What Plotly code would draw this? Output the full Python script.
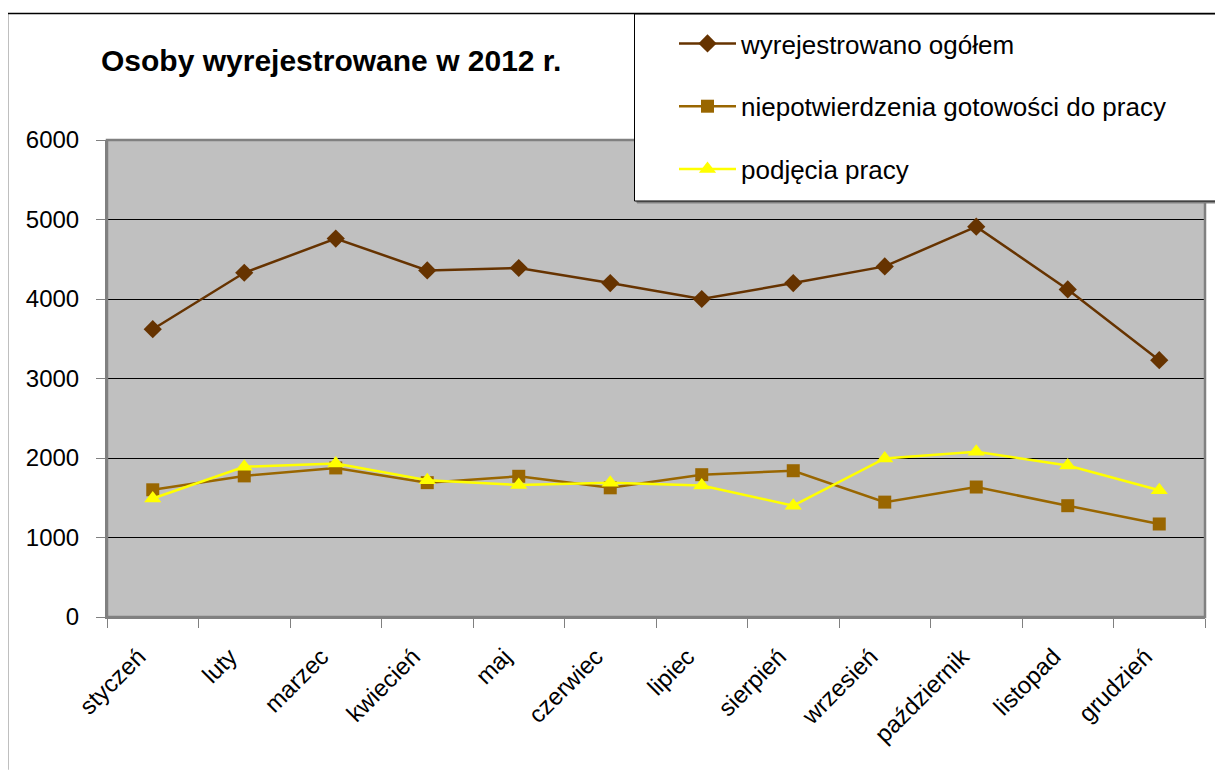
import plotly.graph_objects as go

months = ["styczeń", "luty", "marzec", "kwiecień", "maj", "czerwiec", "lipiec",
          "sierpień", "wrzesień", "październik", "listopad", "grudzień"]
wyrejestrowano = [3620, 4330, 4760, 4360, 4390, 4200, 4000, 4200, 4410, 4910, 4120, 3230]
niepotwierdzenia = [1600, 1775, 1875, 1690, 1770, 1625, 1790, 1840, 1445, 1635, 1400, 1170]
podjecia = [1490, 1890, 1930, 1720, 1660, 1690, 1655, 1400, 1995, 2080, 1905, 1595]
y_ticks = [0, 1000, 2000, 3000, 4000, 5000, 6000]
title_text = "Osoby wyrejestrowane w 2012 r."

# page has an 8px body margin; figure coords = reference px - 8
OFF = 8
W, H = 1223 - OFF, 771 - OFF
L, R, T, B = 107 - OFF, 1205 - OFF, 136 - OFF, 617 - OFF
pw, ph = R - L, B - T

def px(x):  # reference pixel -> paper
    return (x - OFF - L) / pw

def py(y):
    return (B - (y - OFF)) / ph

font = "Liberation Sans, Arial, sans-serif"
pad_txt = "\u00a0\u00a0\u00a0"  # nudges rotated labels down-left of the category centre

fig = go.Figure()
fig.add_trace(go.Scatter(x=months, y=wyrejestrowano, name="wyrejestrowano ogółem",
                         mode="lines+markers", legendgroup="a",
                         line=dict(color="#663300", width=2.5),
                         marker=dict(symbol="diamond", size=14, color="#663300")))
fig.add_trace(go.Scatter(x=months, y=niepotwierdzenia, name="niepotwierdzenia gotowości do pracy",
                         mode="lines+markers", legendgroup="b",
                         line=dict(color="#996600", width=2.5),
                         marker=dict(symbol="square", size=13, color="#996600")))
fig.add_trace(go.Scatter(x=months, y=podjecia, name="podjęcia pracy",
                         mode="lines+markers", legendgroup="c",
                         line=dict(color="#FFFF00", width=2.5),
                         marker=dict(symbol="triangle-up", size=15, color="#FFFF00")))

fig.update_layout(
    width=W, height=H,
    margin=dict(l=L, r=W - R, t=T, b=H - B, pad=0),
    paper_bgcolor="white",
    plot_bgcolor="#C0C0C0",
    font=dict(family=font, size=24, color="black"),
    title=dict(text="<b>" + title_text + "</b>", x=(101 - OFF) / W, xref="container", xanchor="left",
               y=1 - (60 - OFF) / H, yref="container", yanchor="middle",
               font=dict(size=30, family=font, color="black")),
    showlegend=True,
    legend=dict(x=px(674), y=py(15), xanchor="left", yanchor="top",
                bgcolor="rgba(0,0,0,0)", borderwidth=0,
                font=dict(size=26, family=font), tracegroupgap=26,
                itemwidth=57, traceorder="grouped"),
    xaxis=dict(type="category", showgrid=False, ticks="outside", tickson="boundaries",
               ticklen=9, tickcolor="#808080", tickangle=-45,
               tickmode="array", tickvals=months, ticktext=[m + pad_txt for m in months],
               showline=True, linecolor="#808080", linewidth=2, automargin=False,
               tickfont=dict(size=24, family=font), range=[-0.5, 11.5]),
    yaxis=dict(range=[0, 6000], tickvals=y_ticks, showgrid=True, gridcolor="#000000",
               gridwidth=1, ticks="outside", ticklen=9, tickcolor="#808080",
               ticklabelstandoff=12, automargin=False,
               showline=True, linecolor="#808080", linewidth=2, zeroline=False,
               tickfont=dict(size=24, family=font)),
    shapes=[
        # outer chart border (left and top edges)
        dict(type="line", xref="paper", yref="paper", x0=px(7.5), x1=px(7.5), y0=py(771), y1=py(8.5),
             line=dict(color="black", width=1.5)),
        dict(type="line", xref="paper", yref="paper", x0=px(7.5), x1=px(1223), y0=py(8.5), y1=py(8.5),
             line=dict(color="black", width=1.5)),
        # plot area border
        dict(type="rect", xref="paper", yref="paper", x0=0, x1=1, y0=0, y1=1,
             line=dict(color="#808080", width=2.5), layer="above"),
        # legend box shadow + box
        dict(type="rect", xref="paper", yref="paper", x0=px(637), x1=px(1219), y0=py(199.5), y1=py(11),
             line=dict(color="#808080", width=1), fillcolor="#808080", layer="above"),
        dict(type="rect", xref="paper", yref="paper", x0=px(634.5), x1=px(1216.5), y0=py(197.5), y1=py(9),
             line=dict(color="black", width=1), fillcolor="white", layer="above"),
    ],
)
fig.write_html("out.html")
